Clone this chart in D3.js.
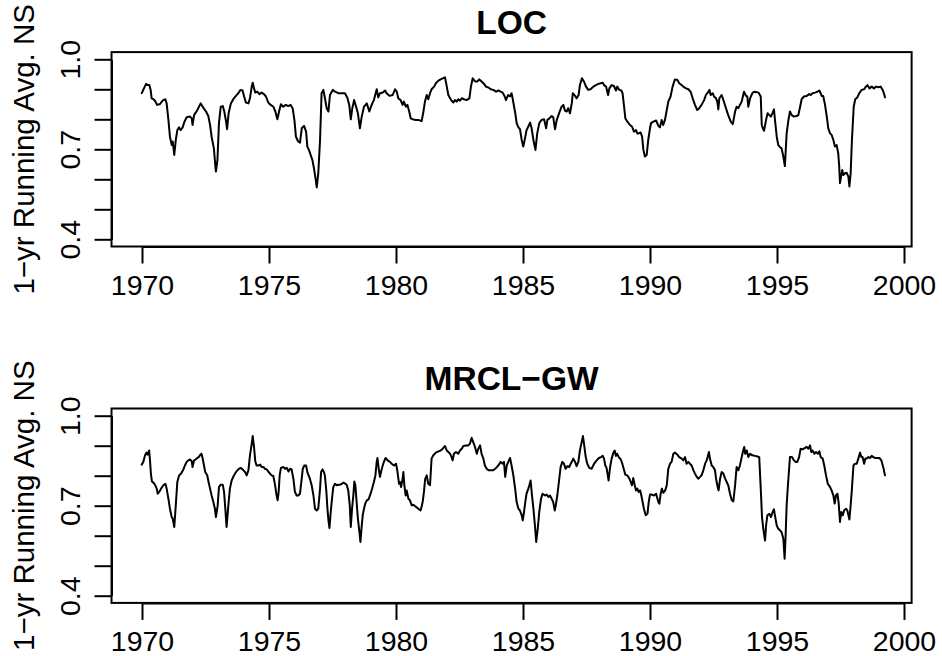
<!DOCTYPE html>
<html>
<head>
<meta charset="utf-8">
<script src="https://cdn.jsdelivr.net/npm/d3@7"></script>
<style>
  html, body { margin: 0; padding: 0; background: #fff; }
  svg { display: block; }
  text { font-family: "Liberation Sans", Arial, Helvetica, sans-serif; fill: #000; }
</style>
</head>
<body>
<svg id="chart" width="942" height="656"></svg>
<script>
// Panel titles and shared axis settings
const panelTitles = ["LOC", "MRCL\u2212GW"];
const yAxisTitle = "1\u2212yr Running Avg. NS";
const xTickValues = [1970, 1975, 1980, 1985, 1990, 1995, 2000];
const yTickValues = [0.4, 0.5, 0.6, 0.7, 0.8, 0.9, 1.0];
const yTickLabels = ["0.4", "0.7", "1.0"];

// LOC: 1-yr running average Nash-Sutcliffe, by decimal year
const locYears = [
  1969.99,1970.16,1970.21,1970.29,1970.34,1970.38,1970.45,1970.51,1970.60,1970.71,1970.81,1970.92,1970.97,
  1971.04,1971.10,1971.17,1971.21,1971.27,1971.33,1971.39,1971.46,1971.52,1971.60,1971.67,1971.76,1971.89,1971.96,1971.99,
  1972.05,1972.18,1972.31,1972.41,1972.52,1972.61,1972.68,1972.74,1972.83,1972.89,1972.91,1972.97,
  1973.03,1973.10,1973.18,1973.24,1973.31,1973.35,1973.41,1973.50,1973.60,1973.70,1973.79,1973.88,1973.96,
  1974.02,1974.09,1974.19,1974.25,1974.32,1974.36,1974.41,1974.46,1974.54,1974.62,1974.71,1974.80,1974.88,1974.97,
  1975.07,1975.17,1975.25,1975.33,1975.41,1975.47,1975.56,1975.66,1975.76,1975.85,1975.93,
  1976.00,1976.06,1976.15,1976.22,1976.29,1976.38,1976.46,1976.51,1976.57,1976.64,1976.71,1976.77,1976.84,1976.88,1976.94,
  1977.01,1977.07,1977.14,1977.19,1977.27,1977.34,1977.40,1977.51,1977.60,1977.73,1977.86,1977.99,
  1978.08,1978.16,1978.22,1978.28,1978.35,1978.43,1978.50,1978.58,1978.65,1978.74,1978.85,1978.95,
  1979.04,1979.13,1979.24,1979.30,1979.37,1979.48,1979.57,1979.63,1979.74,1979.87,1979.96,
  1980.03,1980.09,1980.18,1980.26,1980.31,1980.39,1980.45,1980.52,1980.58,1980.66,1980.75,1980.88,
  1981.01,1981.08,1981.14,1981.21,1981.27,1981.34,1981.40,1981.50,1981.57,1981.67,1981.76,1981.86,1981.93,
  1982.00,1982.06,1982.13,1982.19,1982.26,1982.32,1982.39,1982.45,1982.52,1982.59,1982.68,1982.78,1982.89,1982.95,
  1983.02,1983.11,1983.20,1983.28,1983.37,1983.47,1983.54,1983.64,1983.73,1983.83,1983.94,
  1984.03,1984.12,1984.20,1984.28,1984.33,1984.41,1984.49,1984.55,1984.59,1984.65,1984.70,1984.75,1984.82,1984.88,1984.95,
  1985.01,1985.08,1985.14,1985.21,1985.28,1985.34,1985.41,1985.49,1985.56,1985.64,1985.73,1985.83,1985.91,1985.96,
  1986.04,1986.13,1986.19,1986.26,1986.33,1986.43,1986.52,1986.59,1986.65,1986.72,1986.78,1986.85,1986.92,1986.96,
  1987.05,1987.11,1987.19,1987.24,1987.32,1987.40,1987.48,1987.57,1987.66,1987.77,1987.87,1987.97,
  1988.06,1988.14,1988.19,1988.27,1988.35,1988.40,1988.49,1988.58,1988.66,1988.71,1988.79,1988.87,1988.92,1988.98,
  1989.03,1989.11,1989.21,1989.29,1989.37,1989.45,1989.50,1989.55,1989.63,1989.69,1989.74,1989.80,1989.87,1989.93,
  1990.00,1990.04,1990.13,1990.24,1990.33,1990.39,1990.46,1990.52,1990.59,1990.66,1990.72,1990.81,1990.89,1990.98,
  1991.08,1991.15,1991.25,1991.31,1991.42,1991.51,1991.60,1991.68,1991.77,1991.86,1991.94,
  1992.03,1992.13,1992.20,1992.30,1992.34,1992.39,1992.47,1992.52,1992.60,1992.65,1992.69,1992.73,1992.82,1992.89,1992.99,
  1993.08,1993.18,1993.26,1993.35,1993.41,1993.48,1993.54,1993.61,1993.70,1993.78,1993.83,1993.87,1993.94,
  1994.04,1994.13,1994.27,1994.36,1994.40,1994.44,1994.49,1994.57,1994.63,1994.70,1994.76,1994.83,1994.88,1994.92,1994.99,
  1995.05,1995.12,1995.18,1995.25,1995.31,1995.38,1995.45,1995.51,1995.58,1995.67,1995.77,1995.84,1995.91,1995.97,
  1996.06,1996.17,1996.27,1996.33,1996.40,1996.50,1996.59,1996.67,1996.76,1996.82,1996.89,1996.96,
  1997.02,1997.09,1997.15,1997.22,1997.28,1997.35,1997.41,1997.45,1997.48,1997.52,1997.57,1997.61,1997.68,1997.74,1997.81,1997.85,1997.90,1997.95,
  1998.02,1998.08,1998.16,1998.24,1998.33,1998.43,1998.50,1998.56,1998.64,1998.73,1998.82,1998.90,1998.99,
  1999.08,1999.16,1999.23,1999.25
];
const locNS = [
  0.887,0.918,0.914,0.914,0.898,0.870,0.867,0.862,0.848,0.851,0.862,0.867,0.853,
  0.798,0.742,0.714,0.726,0.681,0.731,0.764,0.773,0.764,0.773,0.792,0.807,0.809,0.803,0.781,
  0.814,0.831,0.853,0.839,0.826,0.811,0.781,0.742,0.703,0.642,0.626,0.664,
  0.787,0.842,0.844,0.826,0.792,0.767,0.820,0.853,0.868,0.878,0.887,0.898,0.896,
  0.876,0.856,0.853,0.870,0.909,0.922,0.903,0.889,0.892,0.884,0.889,0.884,0.876,0.856,
  0.848,0.842,0.826,0.800,0.831,0.850,0.842,0.848,0.844,0.848,0.837,
  0.798,0.742,0.726,0.722,0.770,0.778,0.759,0.709,0.698,0.681,0.664,0.637,0.598,0.573,0.620,
  0.731,0.887,0.898,0.876,0.837,0.826,0.881,0.898,0.892,0.887,0.887,0.887,
  0.873,0.848,0.800,0.837,0.864,0.842,0.820,0.770,0.809,0.842,0.853,0.826,
  0.848,0.864,0.900,0.873,0.887,0.889,0.896,0.887,0.878,0.881,0.900,
  0.892,0.870,0.864,0.848,0.859,0.842,0.848,0.826,0.803,0.800,0.798,0.798,
  0.794,0.826,0.859,0.881,0.867,0.887,0.900,0.909,0.920,0.929,0.933,0.937,0.940,
  0.909,0.881,0.870,0.862,0.856,0.864,0.859,0.867,0.862,0.870,0.867,0.864,0.870,0.909,
  0.937,0.926,0.926,0.933,0.926,0.918,0.909,0.906,0.900,0.898,0.892,
  0.896,0.892,0.889,0.876,0.864,0.881,0.876,0.887,0.870,0.842,0.818,0.787,0.773,0.767,0.731,
  0.709,0.737,0.764,0.776,0.789,0.770,0.731,0.698,0.753,0.787,0.798,0.800,0.770,0.798,
  0.803,0.811,0.807,0.767,0.798,0.822,0.842,0.848,0.829,0.826,0.837,0.820,0.853,0.887,
  0.878,0.870,0.881,0.914,0.937,0.926,0.909,0.898,0.900,0.909,0.914,0.918,
  0.920,0.922,0.914,0.909,0.881,0.903,0.914,0.911,0.896,0.909,0.898,0.896,0.887,0.842,
  0.803,0.792,0.781,0.776,0.759,0.764,0.753,0.753,0.756,0.742,0.698,0.676,0.681,0.731,
  0.770,0.787,0.792,0.796,0.778,0.773,0.798,0.781,0.798,0.831,0.859,0.876,0.909,0.933,
  0.931,0.920,0.914,0.909,0.903,0.900,0.892,0.870,0.848,0.831,0.837,
  0.848,0.864,0.881,0.892,0.898,0.881,0.887,0.876,0.870,0.859,0.833,0.870,0.881,0.864,0.837,
  0.814,0.792,0.784,0.826,0.842,0.837,0.848,0.859,0.892,0.878,0.876,0.842,0.870,
  0.889,0.892,0.889,0.876,0.781,0.770,0.762,0.798,0.820,0.814,0.809,0.822,0.833,0.798,0.742,
  0.714,0.707,0.703,0.676,0.644,0.753,0.798,0.826,0.814,0.809,0.811,0.814,0.842,0.867,
  0.876,0.878,0.884,0.881,0.887,0.889,0.892,0.896,0.878,0.878,0.848,0.809,
  0.770,0.753,0.748,0.731,0.709,0.714,0.687,0.642,0.587,0.609,0.631,0.614,0.620,0.622,0.609,0.576,0.620,0.731,
  0.842,0.867,0.873,0.887,0.898,0.900,0.909,0.914,0.903,0.909,0.903,0.909,0.907,
  0.909,0.898,0.881,0.873
];

// MRCL-GW: 1-yr running average Nash-Sutcliffe, by decimal year
const mrclYears = [
  1969.99,1970.05,1970.12,1970.18,1970.22,1970.28,1970.31,1970.35,1970.39,1970.45,1970.51,1970.58,1970.62,1970.68,1970.75,1970.84,1970.92,1970.97,
  1971.04,1971.10,1971.17,1971.21,1971.27,1971.33,1971.39,1971.46,1971.54,1971.63,1971.69,1971.76,1971.82,1971.89,1971.96,1971.99,
  1972.05,1972.11,1972.18,1972.23,1972.28,1972.34,1972.39,1972.44,1972.49,1972.57,1972.62,1972.68,1972.74,1972.81,1972.87,1972.91,1972.98,
  1973.03,1973.10,1973.18,1973.23,1973.28,1973.33,1973.40,1973.46,1973.53,1973.62,1973.70,1973.79,1973.88,1973.96,
  1974.06,1974.12,1974.19,1974.25,1974.32,1974.36,1974.41,1974.46,1974.51,1974.58,1974.65,1974.71,1974.78,1974.84,1974.91,1974.97,
  1975.04,1975.10,1975.17,1975.24,1975.30,1975.34,1975.38,1975.42,1975.47,1975.56,1975.63,1975.70,1975.77,1975.83,1975.89,1975.96,
  1976.02,1976.09,1976.15,1976.22,1976.27,1976.33,1976.39,1976.46,1976.51,1976.56,1976.61,1976.68,1976.75,1976.81,1976.88,1976.94,
  1977.01,1977.05,1977.11,1977.17,1977.20,1977.26,1977.30,1977.34,1977.38,1977.43,1977.48,1977.53,1977.60,1977.66,1977.73,1977.80,1977.86,1977.93,
  1978.01,1978.06,1978.12,1978.18,1978.22,1978.27,1978.32,1978.36,1978.40,1978.45,1978.50,1978.56,1978.60,1978.64,1978.69,1978.74,1978.79,1978.85,1978.92,
  1979.00,1979.06,1979.13,1979.19,1979.24,1979.27,1979.32,1979.37,1979.41,1979.46,1979.53,1979.59,1979.67,1979.76,1979.83,1979.92,
  1980.00,1980.05,1980.12,1980.16,1980.20,1980.25,1980.29,1980.33,1980.38,1980.42,1980.49,1980.55,1980.62,1980.68,1980.79,1980.88,1980.97,
  1981.05,1981.10,1981.15,1981.21,1981.27,1981.34,1981.40,1981.47,1981.57,1981.67,1981.76,1981.84,1981.93,
  1982.00,1982.06,1982.13,1982.19,1982.23,1982.28,1982.36,1982.45,1982.52,1982.59,1982.65,1982.76,1982.85,1982.91,1982.98,
  1983.04,1983.11,1983.18,1983.24,1983.31,1983.37,1983.44,1983.50,1983.57,1983.64,1983.73,1983.83,1983.94,
  1984.03,1984.12,1984.20,1984.25,1984.30,1984.36,1984.42,1984.49,1984.55,1984.62,1984.69,1984.75,1984.82,1984.88,1984.95,1984.99,
  1985.04,1985.09,1985.14,1985.21,1985.25,1985.30,1985.34,1985.41,1985.47,1985.52,1985.58,1985.64,1985.71,1985.77,1985.87,1985.93,
  1986.00,1986.06,1986.13,1986.19,1986.25,1986.29,1986.35,1986.42,1986.48,1986.55,1986.61,1986.68,1986.75,1986.82,1986.88,1986.93,1986.98,
  1987.05,1987.11,1987.18,1987.24,1987.31,1987.36,1987.41,1987.47,1987.53,1987.61,1987.70,1987.80,1987.90,1987.99,
  1988.07,1988.14,1988.19,1988.24,1988.29,1988.37,1988.43,1988.49,1988.56,1988.61,1988.66,1988.71,1988.77,1988.85,1988.91,1988.98,
  1989.03,1989.11,1989.19,1989.24,1989.29,1989.34,1989.40,1989.45,1989.50,1989.55,1989.61,1989.66,1989.71,1989.76,1989.83,1989.90,1989.95,
  1990.00,1990.07,1990.16,1990.24,1990.33,1990.37,1990.42,1990.47,1990.52,1990.60,1990.66,1990.72,1990.79,1990.85,1990.92,1990.98,
  1991.08,1991.15,1991.25,1991.31,1991.38,1991.44,1991.51,1991.57,1991.64,1991.71,1991.77,1991.84,1991.90,1991.97,
  1992.03,1992.10,1992.17,1992.23,1992.27,1992.32,1992.36,1992.43,1992.49,1992.56,1992.60,1992.65,1992.70,1992.76,1992.82,1992.89,1992.95,
  1993.02,1993.08,1993.15,1993.22,1993.28,1993.35,1993.41,1993.48,1993.54,1993.61,1993.67,1993.71,1993.75,1993.81,1993.87,1993.94,
  1994.03,1994.13,1994.23,1994.30,1994.36,1994.41,1994.46,1994.53,1994.57,1994.62,1994.70,1994.76,1994.83,1994.88,1994.93,1994.99,
  1995.05,1995.12,1995.18,1995.25,1995.30,1995.34,1995.38,1995.43,1995.51,1995.59,1995.67,1995.73,1995.80,1995.87,1995.93,
  1996.01,1996.09,1996.17,1996.23,1996.30,1996.35,1996.40,1996.47,1996.54,1996.61,1996.67,1996.72,1996.80,1996.86,1996.93,
  1997.00,1997.09,1997.15,1997.22,1997.27,1997.32,1997.38,1997.43,1997.48,1997.53,1997.59,1997.64,1997.72,1997.77,1997.85,1997.90,1997.95,
  1998.01,1998.07,1998.14,1998.20,1998.27,1998.32,1998.37,1998.43,1998.48,1998.53,1998.60,1998.66,1998.73,1998.79,1998.87,1998.95,
  1999.03,1999.11,1999.19,1999.25
];
const mrclNS = [
  0.837,0.846,0.868,0.877,0.870,0.884,0.857,0.807,0.781,0.777,0.770,0.757,0.740,0.746,0.757,0.768,0.773,0.757,
  0.723,0.690,0.662,0.657,0.629,0.701,0.779,0.801,0.807,0.821,0.834,0.846,0.851,0.854,0.848,0.829,
  0.851,0.854,0.859,0.862,0.868,0.873,0.857,0.834,0.812,0.801,0.779,0.757,0.734,0.712,0.690,0.662,0.701,
  0.762,0.770,0.770,0.746,0.690,0.629,0.701,0.757,0.784,0.801,0.812,0.821,0.826,0.821,
  0.812,0.801,0.818,0.868,0.907,0.932,0.896,0.848,0.834,0.834,0.837,0.829,0.829,0.823,0.821,0.814,
  0.807,0.801,0.799,0.768,0.734,0.718,0.746,0.801,0.826,0.829,0.823,0.826,0.814,0.823,0.821,0.790,
  0.746,0.734,0.734,0.740,0.777,0.823,0.834,0.834,0.812,0.801,0.790,0.768,0.734,0.690,0.684,0.690,
  0.757,0.812,0.821,0.810,0.801,0.746,0.690,0.651,0.626,0.679,0.723,0.762,0.773,0.768,0.770,0.770,0.773,0.777,
  0.773,0.770,0.751,0.701,0.629,0.690,0.734,0.781,0.768,0.712,0.657,0.612,0.579,0.623,0.668,0.690,0.707,0.718,0.721,
  0.740,0.757,0.779,0.801,0.846,0.859,0.823,0.796,0.812,0.829,0.848,0.859,0.851,0.846,0.840,0.834,
  0.840,0.818,0.773,0.779,0.762,0.784,0.812,0.768,0.734,0.751,0.723,0.718,0.701,0.703,0.696,0.690,0.684,
  0.712,0.746,0.790,0.801,0.773,0.768,0.857,0.868,0.877,0.881,0.884,0.890,0.899,
  0.884,0.879,0.873,0.862,0.851,0.873,0.879,0.873,0.884,0.890,0.899,0.901,0.901,0.907,0.926,
  0.912,0.896,0.873,0.890,0.901,0.873,0.857,0.834,0.823,0.818,0.818,0.818,0.826,
  0.834,0.846,0.840,0.846,0.796,0.834,0.846,0.859,0.834,0.801,0.757,0.712,0.690,0.684,0.668,0.651,
  0.679,0.712,0.740,0.757,0.768,0.784,0.746,0.690,0.634,0.579,0.623,0.679,0.723,0.740,0.734,0.737,
  0.729,0.734,0.723,0.712,0.684,0.701,0.734,0.784,0.829,0.846,0.840,0.823,0.832,0.829,0.840,0.848,0.857,
  0.846,0.832,0.846,0.884,0.912,0.932,0.901,0.862,0.840,0.826,0.823,0.840,0.851,0.859,
  0.862,0.866,0.857,0.834,0.826,0.784,0.829,0.857,0.877,0.884,0.866,0.873,0.862,0.854,0.840,0.818,
  0.803,0.801,0.790,0.779,0.768,0.792,0.768,0.751,0.757,0.746,0.751,0.734,0.712,0.690,0.668,0.673,0.712,
  0.737,0.737,0.734,0.740,0.712,0.707,0.740,0.757,0.743,0.751,0.768,0.823,0.840,0.846,0.873,0.877,
  0.870,0.862,0.857,0.851,0.862,0.840,0.846,0.840,0.834,0.818,0.807,0.796,0.790,0.796,
  0.801,0.818,0.840,0.851,0.862,0.879,0.857,0.834,0.829,0.818,0.790,0.768,0.751,0.790,0.812,0.807,0.792,
  0.779,0.768,0.740,0.718,0.714,0.768,0.829,0.818,0.834,0.862,0.884,0.896,0.873,0.884,0.862,0.873,
  0.868,0.866,0.864,0.862,0.757,0.662,0.623,0.584,0.634,0.668,0.673,0.662,0.679,0.688,0.662,0.634,
  0.623,0.618,0.612,0.590,0.523,0.601,0.701,0.768,0.862,0.862,0.851,0.846,0.846,0.862,0.890,
  0.888,0.892,0.896,0.890,0.901,0.879,0.884,0.873,0.879,0.873,0.881,0.862,0.857,0.834,0.801,
  0.773,0.762,0.751,0.734,0.707,0.734,0.740,0.707,0.646,0.679,0.668,0.684,0.690,0.684,0.654,0.701,0.757,
  0.834,0.840,0.840,0.857,0.877,0.862,0.862,0.840,0.857,0.857,0.862,0.859,0.866,0.862,0.859,0.859,
  0.859,0.851,0.826,0.801
];

const panels = [
  { title: panelTitles[0], years: locYears, values: locNS },
  { title: panelTitles[1], years: mrclYears, values: mrclNS }
];

const svg = d3.select("#chart");
const tickFontSize = 28.5;
const labelFontSize = 29.5;
const panelStep = 356.4;

// Shared horizontal scale; the plot box spans a little beyond the data years
const x = d3.scaleLinear().domain([1970, 2000]).range([142, 904]);
const xLim = [1968.8, 2000.3];

panels.forEach((p, i) => {
  const oy = i * panelStep;
  const y = d3.scaleLinear().domain([0.4, 1.0]).range([239.3 + oy, 59.3 + oy]);
  const yLim = [0.376, 1.024];
  const left = x(xLim[0]), right = x(xLim[1]);
  const top = y(yLim[1]), bottom = y(yLim[0]);

  const g = svg.append("g");

  // series line
  const line = d3.line()
    .x((d, k) => x(p.years[k]))
    .y(d => y(d));
  g.append("path")
    .datum(p.values)
    .attr("d", line)
    .attr("fill", "none")
    .attr("stroke", "#000")
    .attr("stroke-width", 2)
    .attr("stroke-linejoin", "round")
    .attr("stroke-linecap", "round");

  // x axis
  const xAxis = g.append("g")
    .attr("transform", `translate(0,${bottom})`)
    .call(d3.axisBottom(x).tickValues(xTickValues).tickSize(17).tickSizeOuter(0)
      .tickPadding(11).tickFormat(d3.format("d")));
  xAxis.selectAll("path, line").attr("stroke", "#000").attr("stroke-width", 2);
  xAxis.selectAll("text").attr("font-size", tickFontSize).attr("font-family", null);

  // y axis with rotated labels, only some ticks labelled
  const yAxis = g.append("g")
    .attr("transform", `translate(${left},0)`)
    .call(d3.axisLeft(y).tickValues(yTickValues).tickSize(17).tickSizeOuter(0)
      .tickFormat(d => {
        const s = d3.format(".1f")(d);
        return yTickLabels.includes(s) ? s : "";
      }));
  yAxis.selectAll("path, line").attr("stroke", "#000").attr("stroke-width", 2);
  yAxis.selectAll("text")
    .attr("font-size", tickFontSize)
    .attr("font-family", null)
    .attr("x", null).attr("dy", null)
    .attr("text-anchor", "middle")
    .attr("transform", "translate(-31.5,0) rotate(-90)");

  // plot box
  g.append("rect")
    .attr("x", left).attr("y", top)
    .attr("width", right - left).attr("height", bottom - top)
    .attr("fill", "none").attr("stroke", "#000").attr("stroke-width", 2);

  // title
  g.append("text")
    .attr("x", (left + right) / 2)
    .attr("y", 33.5 + oy)
    .attr("text-anchor", "middle")
    .attr("font-size", 33.5)
    .attr("font-weight", "bold")
    .text(p.title);

  // y axis title, centred on the plot region
  g.append("text")
    .attr("transform", `translate(33.5,${(top + bottom) / 2}) rotate(-90)`)
    .attr("text-anchor", "middle")
    .attr("font-size", labelFontSize)
    .text(yAxisTitle);
});
</script>
</body>
</html>
